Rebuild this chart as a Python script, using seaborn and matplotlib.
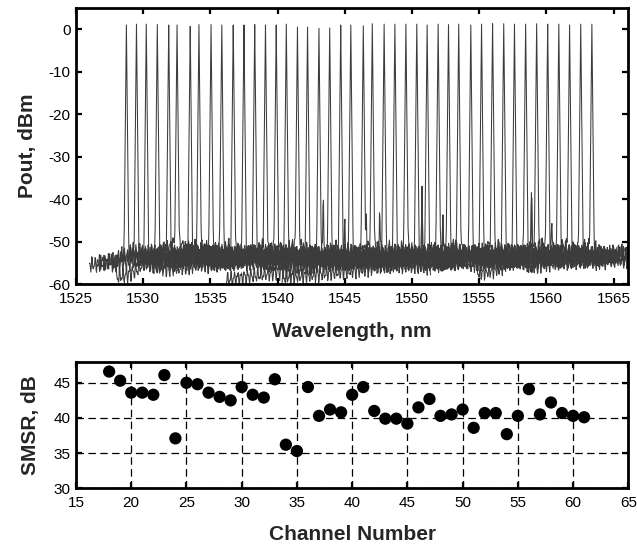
import numpy as np
import pandas as pd
import matplotlib
matplotlib.use("Agg")
import matplotlib.pyplot as plt
import seaborn as sns

# ---------------- data: optical spectra (top panel) ----------------
peak_wl = [1528.75, 1529.50, 1530.23, 1531.05, 1531.90, 1532.52, 1533.50, 1534.15,
           1535.05, 1535.85, 1536.70, 1537.50, 1538.30, 1539.10, 1539.90, 1540.65,
           1541.48, 1542.23, 1543.08, 1543.88, 1544.70, 1545.45, 1546.38, 1547.05,
           1547.93, 1548.73, 1549.55, 1550.36, 1551.13, 1551.95, 1552.72, 1553.48,
           1554.38, 1555.18, 1556.00, 1556.83, 1557.63, 1558.46, 1559.28, 1560.10,
           1560.93, 1561.73, 1562.56, 1563.39]
peak_dbm = [1.0, 1.2, 1.2, 1.1, 1.0, 1.0, 0.7, 1.1, 1.1, 1.0, 1.0, 1.0, 1.1, 1.0, 1.0, 1.2,
            0.5, 0.5, 0.2, 0.3, 1.0, 1.0, 0.8, 1.3, 1.2, 1.2, 1.2, 1.2, 1.0, 1.2, 1.1, 1.2,
            1.0, 1.2, 1.3, 1.3, 1.2, 1.2, 1.3, 1.2, 1.2, 1.0, 1.2, 1.2]
trace_start = [1526.0, 1526.6, 1528.0, 1527.6, 1528.4, 1529.0, 1530.0, 1530.6,
               1531.5, 1532.3, 1533.2, 1534.0, 1534.8, 1535.6, 1536.4, 1537.1,
               1538.0, 1538.7, 1539.6, 1536.2, 1541.2, 1541.9, 1542.9, 1543.5,
               1544.4, 1540.3, 1546.0, 1546.9, 1547.6, 1548.4, 1549.2, 1550.0,
               1550.9, 1551.7, 1552.5, 1553.3, 1554.8, 1554.9, 1555.8, 1556.6,
               1557.4, 1558.2, 1559.0, 1559.9]
trace_end = [1534.7, 1535.5, 1536.2, 1537.0, 1537.9, 1538.5, 1539.5, 1540.1,
             1541.0, 1541.8, 1542.7, 1543.5, 1544.3, 1545.1, 1545.9, 1546.6,
             1547.5, 1548.2, 1549.1, 1549.9, 1550.7, 1551.4, 1552.4, 1553.0,
             1553.9, 1554.7, 1555.5, 1556.4, 1557.1, 1558.0, 1558.7, 1559.5,
             1560.4, 1561.2, 1562.0, 1562.8, 1563.6, 1564.5, 1565.3, 1566.2,
             1566.2, 1566.2, 1566.2, 1566.2]
floor_start = [-55.5, -55.0, -58.5, -55.5, -53.5, -52.5, -55.5, -54.0, -52.5, -55.0, -52.5,
               -54.0, -55.5, -53.0, -54.5, -54.0, -52.5, -55.5, -54.0, -59.0, -53.0, -54.5,
               -55.5, -52.5, -54.0, -58.5, -52.5, -54.5, -55.5, -53.0, -54.0, -52.5, -55.0,
               -55.5, -52.5, -54.0, -57.5, -53.0, -54.5, -52.5, -54.0, -53.0, -54.5, -53.5]
floor_end = [-54.0, -53.0, -54.5, -52.5, -55.0, -53.0, -54.5, -52.5, -55.0, -53.0, -54.5,
             -55.5, -53.0, -54.5, -52.5, -55.0, -54.0, -53.0, -55.5, -52.5, -54.0, -56.0,
             -53.0, -55.0, -52.5, -54.0, -55.5, -54.0, -53.0, -55.0, -52.5, -55.5, -54.0,
             -53.0, -54.5, -52.5, -54.0, -55.0, -53.0, -54.0, -52.5, -54.5, -53.0, -54.0]
spur_wl = [1543.4, 1545.0, 1546.6, 1547.6, 1550.75, 1552.3, 1558.9, 1560.4]
spur_dbm = [-36.5, -41.0, -41.0, -39.5, -37.0, -40.0, -36.0, -42.0]

# ---------------- data: SMSR (bottom panel) ----------------
channels = list(range(18, 62))
smsr_db = [46.6, 45.3, 43.6, 43.6, 43.3, 46.1, 37.1, 45.0, 44.8, 43.6, 43.0, 42.5,
           44.4, 43.3, 42.9, 45.5, 36.2, 35.3, 44.4, 40.3, 41.2, 40.8, 43.3, 44.4,
           41.0, 39.9, 39.9, 39.2, 41.5, 42.7, 40.3, 40.5, 41.2, 38.6, 40.7, 40.7,
           37.7, 40.3, 44.1, 40.5, 42.2, 40.7, 40.3, 40.1]

# ---------------- build spectra table (OSA trace shape model) ----------------
rows = []
for i, (wl0, p0, s, e, f0, f1) in enumerate(zip(peak_wl, peak_dbm, trace_start,
                                                 trace_end, floor_start, floor_end)):
    grid = np.arange(s, e, 0.035)
    near = wl0 + np.array([-0.16, -0.11, -0.07, -0.035, 0.0, 0.035, 0.07, 0.11, 0.16])
    wl = np.unique(np.concatenate([grid, near]))
    floor = np.interp(wl, [s, e], [f0, f1])
    ph = 1.7 * i
    floor = (floor + 1.3 * np.sin(2 * np.pi * wl / (0.22 + 0.01 * (i % 4)) + ph)
             + 0.8 * np.sin(2 * np.pi * wl / 0.131 + 2.3 * ph))
    floor = floor + 3.5 * np.exp(-np.abs(wl - wl0) / 0.6)
    spike = p0 - 300.0 * np.abs(wl - wl0)
    p = np.maximum(floor, spike)
    for sw, sp in zip(spur_wl, spur_dbm):
        if s < sw < e and abs(sw - wl0) < 0.45:
            p = np.maximum(p, sp - 250.0 * np.abs(wl - sw))
    rows.append(pd.DataFrame({"wl": wl, "p": p, "trace": i}))
spec = pd.concat(rows, ignore_index=True)
smsr = pd.DataFrame({"ch": channels, "smsr": smsr_db})

# ---------------- plotting ----------------
sns.set_theme(style="ticks")
plt.rcParams["font.family"] = ["Liberation Sans", "DejaVu Sans"]
plt.rcParams["axes.unicode_minus"] = False

W, H = 637, 544
fig = plt.figure(figsize=(W / 100, H / 100), dpi=100)
ax1 = fig.add_axes([76 / W, 1 - 284 / H, 552.3 / W, 276 / H])
ax2 = fig.add_axes([76 / W, 1 - 488.3 / H, 552.3 / W, 126.6 / H])

sns.lineplot(data=spec, x="wl", y="p", units="trace", estimator=None, sort=False,
             color="#3c3c3c", linewidth=0.75, ax=ax1, legend=False)
ax1.set_xlim(1525, 1566.1)
ax1.set_ylim(-60, 5)
ax1.set_xticks(np.arange(1525, 1566, 5))
ax1.set_yticks(np.arange(-60, 1, 10))
ax1.set_xlabel("Wavelength, nm", fontsize=15, fontweight="bold", labelpad=12)
ax1.set_ylabel("Pout, dBm", fontsize=15, fontweight="bold", labelpad=8)

sns.scatterplot(data=smsr, x="ch", y="smsr", color="black", s=78, edgecolor="none",
                ax=ax2, legend=False, zorder=5)
ax2.set_xlim(15, 65)
ax2.set_ylim(30, 48)
ax2.set_xticks(np.arange(15, 66, 5))
ax2.set_yticks([30, 35, 40, 45])
ax2.grid(True, color="black", linestyle=(0, (6, 3.5)), linewidth=0.9)
ax2.set_axisbelow(True)
ax2.set_xlabel("Channel Number", fontsize=15, fontweight="bold", labelpad=11)
ax2.set_ylabel("SMSR, dB", fontsize=15, fontweight="bold", labelpad=10)

for ax in (ax1, ax2):
    for sp in ax.spines.values():
        sp.set_visible(True)
        sp.set_linewidth(2.0)
        sp.set_color("black")
    ax.tick_params(direction="in", top=True, right=True, length=4.5, width=1.6,
                   labelsize=11, colors="black")
    ax.tick_params(axis="y", pad=4)
    ax.tick_params(axis="x", pad=5.5)
    ax.set_facecolor("white")

fig.savefig("out.png", dpi=100, facecolor="white")
